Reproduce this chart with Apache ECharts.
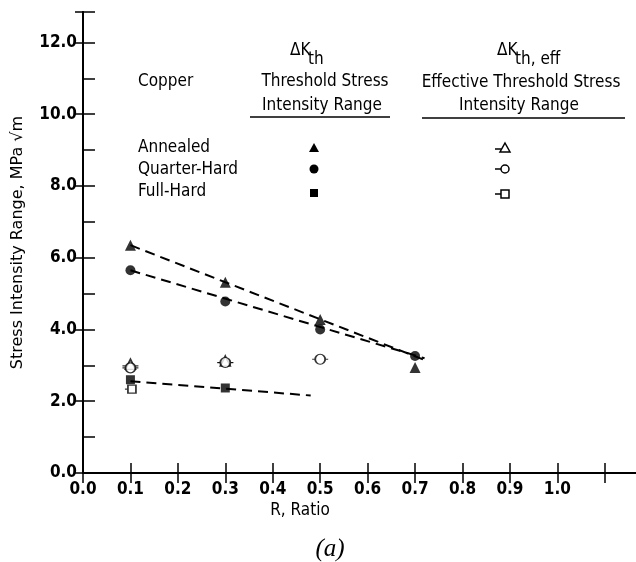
<!DOCTYPE html>
<html>
<head>
<meta charset="utf-8">
<script src="https://cdn.jsdelivr.net/npm/echarts@6/dist/echarts.min.js"></script>
<style>
  html, body { margin: 0; padding: 0; background: #fff; }
  #chart { width: 636px; height: 562px; }
</style>
</head>
<body>
<div id="chart"></div>
<script>
// R ratio values and threshold readings (MPa sqrt(m))
const annealedX = [0.1, 0.3, 0.5, 0.7];
const annealed = [6.35, 5.32, 4.28, 2.94];
const quarterHardX = [0.1, 0.3, 0.5, 0.7];
const quarterHard = [5.65, 4.78, 4.0, 3.26];
const fullHardX = [0.1, 0.3];
const fullHard = [2.6, 2.37];

// effective thresholds (open symbols)
const annealedEffX = [0.1, 0.3];
const annealedEff = [3.03, 3.12];
const quarterEffX = [0.1, 0.3, 0.5];
const quarterEff = [2.93, 3.08, 3.17];
const fullEffX = [0.1];
const fullEff = [2.34];

// dashed trend lines (end points)
const annealedFitX = [0.1, 0.72];
const annealedFit = [6.35, 3.15];
const quarterFitX = [0.1, 0.72];
const quarterFit = [5.65, 3.2];
const fullFitX = [0.1, 0.48];
const fullFit = [2.56, 2.16];

const font = "DejaVu Sans Condensed";
const pair = (xs, ys) => xs.map((x, i) => [x, ys[i]]);

// open symbols with a little horizontal bar through them
const openTri = "path://M7,0 L12,9 L2,9 Z M-1,6 L2,6 M12,6 L15,6";
const openCircle = "path://M2,5 A5,5 0 1 1 12,5 A5,5 0 1 1 2,5 Z M-1,5 L2,5 M12,5 L15,5";
const openSquare = "path://M3,0 L11,0 L11,8 L3,8 Z M0,4 L3,4";

const chart = echarts.init(document.getElementById("chart"));

function scatter(data, symbol, size, filled) {
  return {
    type: "scatter",
    data: data,
    symbol: symbol,
    symbolSize: size,
    itemStyle: filled
      ? { color: "#000" }
      : { color: "#fff", borderColor: "#000", borderWidth: 1.5 },
    z: filled ? 4 : 3,
    silent: true
  };
}

function dashed(data) {
  return {
    type: "line",
    data: data,
    symbol: "none",
    lineStyle: { color: "#000", width: 2, type: [10, 6] },
    silent: true,
    z: 2
  };
}

function txt(text, x, y, opts) {
  return {
    type: "text",
    silent: true,
    style: Object.assign(
      {
        text: text,
        x: x,
        y: y,
        fill: "#000",
        font: "17px '" + font + "'",
        textAlign: "left",
        textVerticalAlign: "middle"
      },
      opts || {}
    )
  };
}

const tickStyle = { color: "#000", width: 1.5 };

const option = {
  animation: false,
  backgroundColor: "#fff",
  grid: { left: 83, top: 12, right: -2, bottom: 89, outerBoundsMode: "none" },
  xAxis: [
    {
      type: "value",
      min: 0,
      max: 1.17,
      interval: 0.1,
      axisLine: { lineStyle: { color: "#000", width: 2 } },
      axisTick: { inside: true, length: 10, lineStyle: tickStyle },
      splitLine: { show: false },
      axisLabel: {
        color: "#000",
        fontFamily: font,
        fontWeight: "bold",
        fontSize: 17,
        margin: 8,
        showMaxLabel: false,
        formatter: v => (v > 1.05 ? "" : v.toFixed(1))
      }
    },
    {
      type: "value",
      position: "top",
      min: 0,
      max: 1.17,
      interval: 0.1,
      axisLine: { lineStyle: { color: "#000", width: 2 } },
      axisTick: { inside: true, length: 10, lineStyle: tickStyle },
      axisLabel: { show: false },
      splitLine: { show: false }
    }
  ],
  yAxis: [
    {
      type: "value",
      min: 0,
      max: 12.85,
      interval: 2,
      name: "Stress Intensity Range, MPa \u221Am",
      nameLocation: "middle",
      nameGap: 57,
      nameTextStyle: { color: "#000", fontFamily: "DejaVu Sans", fontSize: 16 },
      axisLine: { lineStyle: { color: "#000", width: 2 } },
      axisTick: { inside: true, length: 12, lineStyle: tickStyle },
      minorTick: { show: true, splitNumber: 2, length: 12, lineStyle: tickStyle },
      splitLine: { show: false },
      axisLabel: {
        color: "#000",
        fontFamily: font,
        fontWeight: "bold",
        fontSize: 17,
        margin: 6,
        showMaxLabel: false,
        formatter: v => v.toFixed(1)
      }
    },
    {
      type: "value",
      position: "right",
      min: 0,
      max: 12.85,
      interval: 2,
      axisLine: { show: true, lineStyle: { color: "#000", width: 2 } },
      axisTick: { inside: true, length: 8, lineStyle: tickStyle },
      axisLabel: { show: false },
      splitLine: { show: false }
    }
  ],
  series: [
    dashed(pair(annealedFitX, annealedFit)),
    dashed(pair(quarterFitX, quarterFit)),
    dashed(pair(fullFitX, fullFit)),
    scatter(pair(annealedX, annealed), "triangle", 11, true),
    scatter(pair(quarterHardX, quarterHard), "circle", 10, true),
    scatter(pair(fullHardX, fullHard), "rect", 9, true),
    scatter(pair(annealedEffX, annealedEff), openTri, [16, 10], false),
    scatter(pair(quarterEffX, quarterEff), openCircle, [16, 10], false),
    scatter(pair(fullEffX, fullEff), openSquare, [11, 8], false)
  ],
  graphic: [
    txt("Copper", 138, 82),
    txt("\u0394K", 290, 51, { font: "17px '" + font + "'" }),
    txt("th", 308, 60, { font: "17px '" + font + "'" }),
    txt("Threshold Stress", 325, 82, { textAlign: "center" }),
    txt("Intensity Range", 322, 106, { textAlign: "center" }),
    txt("\u0394K", 497, 51, { font: "17px '" + font + "'" }),
    txt("th, eff", 515, 60, { font: "17px '" + font + "'" }),
    txt("Effective Threshold Stress", 521, 83, { textAlign: "center" }),
    txt("Intensity Range", 519, 106, { textAlign: "center" }),
    {
      type: "line",
      silent: true,
      shape: { x1: 250, y1: 117, x2: 390, y2: 117 },
      style: { stroke: "#000", lineWidth: 1.5 }
    },
    {
      type: "line",
      silent: true,
      shape: { x1: 422, y1: 118, x2: 625, y2: 118 },
      style: { stroke: "#000", lineWidth: 1.5 }
    },
    txt("Annealed", 138, 148),
    txt("Quarter-Hard", 138, 170),
    txt("Full-Hard", 138, 192),
    // legend symbols, filled
    {
      type: "polygon",
      silent: true,
      shape: { points: [[314, 143], [319, 152], [309, 152]] },
      style: { fill: "#000" }
    },
    {
      type: "circle",
      silent: true,
      shape: { cx: 314, cy: 169, r: 4.5 },
      style: { fill: "#000" }
    },
    {
      type: "rect",
      silent: true,
      shape: { x: 310, y: 189, width: 8, height: 8 },
      style: { fill: "#000" }
    },
    // legend symbols, open
    {
      type: "polygon",
      silent: true,
      shape: { points: [[505, 143], [510, 152], [500, 152]] },
      style: { fill: "#fff", stroke: "#000", lineWidth: 1.5 }
    },
    {
      type: "line",
      silent: true,
      shape: { x1: 495, y1: 149, x2: 501, y2: 149 },
      style: { stroke: "#000", lineWidth: 1.5 }
    },
    {
      type: "circle",
      silent: true,
      shape: { cx: 505, cy: 169, r: 4 },
      style: { fill: "#fff", stroke: "#000", lineWidth: 1.5 }
    },
    {
      type: "line",
      silent: true,
      shape: { x1: 495, y1: 169, x2: 501, y2: 169 },
      style: { stroke: "#000", lineWidth: 1.5 }
    },
    {
      type: "rect",
      silent: true,
      shape: { x: 501, y: 190, width: 8, height: 8 },
      style: { fill: "#fff", stroke: "#000", lineWidth: 1.5 }
    },
    {
      type: "line",
      silent: true,
      shape: { x1: 495, y1: 194, x2: 501, y2: 194 },
      style: { stroke: "#000", lineWidth: 1.5 }
    },
    txt("R, Ratio", 300, 511, { textAlign: "center", font: "17px '" + font + "'" }),
    txt("(a)", 330, 549, {
      textAlign: "center",
      font: "italic 25px 'Liberation Serif'"
    })
  ]
};

chart.setOption(option);
</script>
</body>
</html>
